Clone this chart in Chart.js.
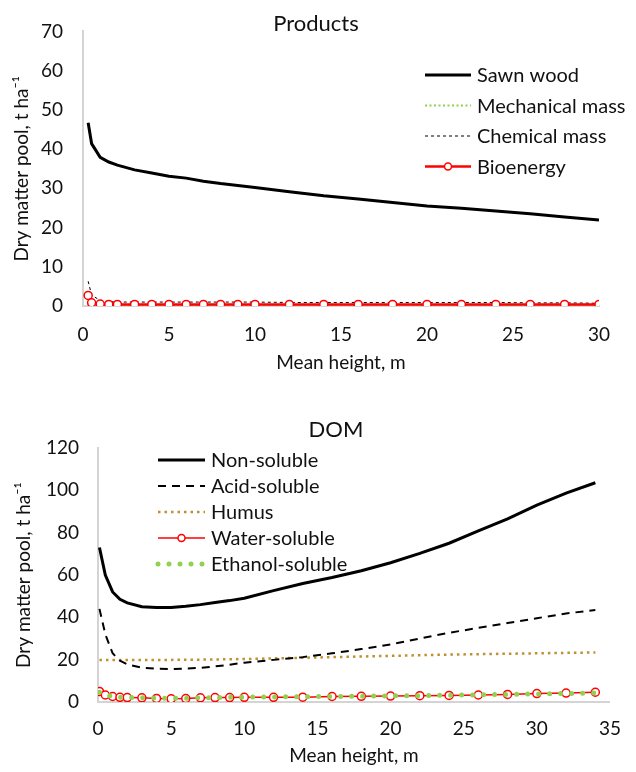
<!DOCTYPE html>
<html>
<head>
<meta charset="utf-8">
<script src="https://cdn.jsdelivr.net/npm/chart.js@4.4.1/dist/chart.umd.min.js"></script>
<style>
  html, body { margin: 0; padding: 0; background: #fff; }
  #wrap { position: relative; width: 636px; height: 772px; }
  #products { position: absolute; left: 0; top: 0; }
  #dom { position: absolute; left: 0; top: 380px; }
</style>
</head>
<body>
<div id="wrap">
  <canvas id="products" width="636" height="380"></canvas>
  <canvas id="dom" width="636" height="392"></canvas>
</div>
<script>
// --- Products panel (mean height, m -> t/ha)
var prodHeights    = [0.3, 0.5, 1, 1.5, 2, 3, 4, 5, 6, 7, 8, 9, 10, 12, 14, 16, 18, 20, 22, 24, 26, 28, 30];
var sawnWood       = [46.7, 41.4, 37.9, 36.7, 35.9, 34.7, 33.9, 33.1, 32.6, 31.8, 31.2, 30.7, 30.2, 29.1, 28.1, 27.3, 26.4, 25.5, 24.9, 24.2, 23.5, 22.7, 21.9];
var mechanicalMass = [1.0, 0.5, 0.3, 0.25, 0.2, 0.2, 0.2, 0.2, 0.2, 0.2, 0.2, 0.2, 0.2, 0.2, 0.2, 0.2, 0.2, 0.2, 0.2, 0.2, 0.2, 0.2, 0.2];
var chemicalMass   = [6.3, 2.8, 1.4, 1.1, 1.0, 1.0, 1.0, 1.0, 1.0, 1.0, 1.0, 1.0, 1.0, 0.9, 0.9, 0.9, 0.9, 0.9, 0.9, 0.9, 0.8, 0.8, 0.7];
var bioenergy      = [2.7, 0.8, 0.5, 0.4, 0.4, 0.4, 0.4, 0.4, 0.4, 0.4, 0.4, 0.4, 0.4, 0.4, 0.4, 0.4, 0.4, 0.4, 0.4, 0.4, 0.4, 0.4, 0.4];

// --- DOM panel
var domHeights     = [0.1, 0.5, 1, 1.5, 2, 3, 4, 5, 6, 7, 8, 9, 10, 12, 14, 16, 18, 20, 22, 24, 26, 28, 30, 32, 34];
var nonSoluble     = [73, 60, 52, 48.5, 46.8, 45.0, 44.6, 44.6, 45.2, 46.0, 47.0, 47.9, 49.0, 52.6, 56.0, 58.8, 62.0, 65.8, 70.2, 75.0, 80.8, 86.5, 93.0, 98.7, 103.6];
var acidSoluble    = [44, 32, 23, 19.5, 17.8, 16.2, 15.7, 15.6, 15.8, 16.1, 16.8, 17.6, 18.6, 19.9, 21.2, 23.0, 25.0, 27.2, 30.0, 32.7, 35.0, 37.3, 39.6, 41.8, 43.5];
var humus          = [19.8, 19.8, 19.8, 19.8, 19.8, 19.8, 19.9, 19.9, 20.0, 20.0, 20.1, 20.2, 20.3, 20.6, 20.9, 21.2, 21.5, 21.8, 22.1, 22.4, 22.6, 22.8, 23.0, 23.2, 23.4];
var waterSoluble   = [5.0, 3.3, 2.6, 2.2, 2.1, 2.0, 1.7, 1.5, 1.6, 2.0, 2.1, 2.1, 2.2, 2.2, 2.3, 2.6, 2.7, 2.8, 3.0, 3.1, 3.3, 3.6, 4.0, 4.2, 4.6];
var ethanolSoluble = [4.6, 3.3, 2.8, 2.3, 2.2, 2.0, 1.8, 1.8, 1.8, 2.0, 2.1, 2.2, 2.3, 2.4, 2.5, 2.6, 2.7, 2.9, 3.0, 3.2, 3.4, 3.6, 3.8, 4.0, 4.3];

var xTitle = 'Mean height, m';
var yTitle = 'Dry matter pool, t ha\u207B\u00B9';

Chart.defaults.font.family = 'Lato, "Open Sans", sans-serif';
Chart.defaults.color = '#111';

function pts(xs, ys) {
    return xs.map(function(x, i) { return {x: x, y: ys[i]}; });
}

// title + legend drawn inside the plot, like the spreadsheet chart
var overlay = {
    id: 'overlay',
    afterDraw: function(chart, args, o) {
        var ctx = chart.ctx;
        ctx.save();
        ctx.fillStyle = '#111';
        ctx.textAlign = 'center';
        ctx.textBaseline = 'middle';
        ctx.font = o.titleSize + 'px Lato';
        ctx.fillText(o.title, o.titleX, o.titleY);

        ctx.textAlign = 'left';
        ctx.font = o.legendSize + 'px Lato';
        chart.data.datasets.forEach(function(ds, i) {
            var y = o.legendY + i * o.rowH;
            var x0 = o.legendX, x1 = o.legendX + o.lineLen;
            ctx.strokeStyle = ds.borderColor;
            ctx.lineWidth = ds.borderWidth;
            ctx.lineCap = ds.borderCapStyle || 'butt';
            ctx.setLineDash(ds.borderDash || []);
            ctx.beginPath();
            ctx.moveTo(x0, y);
            ctx.lineTo(x1, y);
            ctx.stroke();
            ctx.setLineDash([]);
            if (ds.pointRadius > 0) {
                ctx.beginPath();
                ctx.arc((x0 + x1) / 2, y, ds.pointRadius - 0.5, 0, Math.PI * 2);
                ctx.fillStyle = '#fff';
                ctx.fill();
                ctx.lineWidth = ds.pointBorderWidth;
                ctx.stroke();
            }
            ctx.fillStyle = '#111';
            ctx.fillText(ds.label, x1 + 6, y + 1);
        });
        ctx.restore();
    }
};

function scales(s) {
    return {
        x: {
            type: 'linear', min: 0, max: s.xMax,
            grid: { display: false, drawTicks: false },
            border: { display: true, color: '#d4d4d4', width: 2 },
            ticks: { stepSize: 5, padding: s.xPad, font: { size: 19 }, maxRotation: 0 },
            title: { display: true, text: xTitle, font: { size: 19 }, padding: { top: 0, bottom: s.xTitlePad } },
            afterFit: function(a) { a.height = s.xH; }
        },
        y: {
            min: 0, max: s.yMax,
            grid: { display: false, drawTicks: false },
            border: { display: true, color: '#d4d4d4', width: 2 },
            ticks: { stepSize: s.yStep, padding: s.yPad, font: { size: 19 } },
            title: { display: true, text: yTitle, font: { size: 19 }, padding: { top: s.yTitlePad, bottom: 0 } },
            afterFit: function(a) { a.width = s.yW; }
        }
    };
}

var base = {
    responsive: false,
    animation: false,
    devicePixelRatio: 1,
    elements: { line: { tension: 0 } }
};

new Chart(document.getElementById('products'), {
    type: 'line',
    data: {
        datasets: [
            { label: 'Sawn wood', data: pts(prodHeights, sawnWood), borderColor: '#000', borderWidth: 3, pointRadius: 0, order: 1 },
            { label: 'Mechanical mass', data: pts(prodHeights, mechanicalMass), borderColor: '#92d050', borderWidth: 2, borderDash: [2, 2.5], pointRadius: 0, order: 3 },
            { label: 'Chemical mass', data: pts(prodHeights, chemicalMass), borderColor: '#000', borderWidth: 1, borderDash: [3, 3], pointRadius: 0, order: 2 },
            { label: 'Bioenergy', data: pts(prodHeights, bioenergy), borderColor: '#ff0000', borderWidth: 2.5, pointRadius: 4, pointBorderWidth: 1.5, pointBackgroundColor: '#fff', pointBorderColor: '#ff0000', order: 0 }
        ]
    },
    options: Object.assign({}, base, {
        layout: { padding: { top: 20, right: 37, bottom: 0, left: 0 } },
        scales: scales({ xMax: 30, yMax: 70, yStep: 10, xPad: 17, xTitlePad: 6, xH: 74, yPad: 20, yTitlePad: 10, yW: 83 }),
        plugins: {
            legend: { display: false },
            tooltip: { enabled: false },
            overlay: { title: 'Products', titleX: 316, titleY: 24, titleSize: 22,
                       legendX: 425, legendY: 75, rowH: 30.5, lineLen: 46, legendSize: 20 }
        }
    }),
    plugins: [overlay]
});

new Chart(document.getElementById('dom'), {
    type: 'line',
    data: {
        datasets: [
            { label: 'Non-soluble', data: pts(domHeights, nonSoluble), borderColor: '#000', borderWidth: 3, pointRadius: 0, order: 0 },
            { label: 'Acid-soluble', data: pts(domHeights, acidSoluble), borderColor: '#000', borderWidth: 2, borderDash: [8, 6], pointRadius: 0, order: 1 },
            { label: 'Humus', data: pts(domHeights, humus), borderColor: '#bf9032', borderWidth: 2.5, borderDash: [2.5, 4], pointRadius: 0, order: 2 },
            { label: 'Water-soluble', data: pts(domHeights, waterSoluble), borderColor: '#ff0000', borderWidth: 1.5, pointRadius: 4, pointBorderWidth: 1.5, pointBackgroundColor: '#fff', pointBorderColor: '#ff0000', order: 4 },
            { label: 'Ethanol-soluble', data: pts(domHeights, ethanolSoluble), borderColor: '#92d050', borderWidth: 5, borderDash: [0, 11], borderCapStyle: 'round', pointRadius: 0, order: 3 }
        ]
    },
    options: Object.assign({}, base, {
        layout: { padding: { top: 68, right: 11, bottom: 0, left: 0 } },
        scales: scales({ xMax: 35, yMax: 120, yStep: 20, xPad: 15, xTitlePad: 5, xH: 70, yPad: 19, yTitlePad: 12, yW: 98 }),
        plugins: {
            legend: { display: false },
            tooltip: { enabled: false },
            overlay: { title: 'DOM', titleX: 336, titleY: 50, titleSize: 22,
                       legendX: 158, legendY: 80, rowH: 26, lineLen: 47, legendSize: 20 }
        }
    }),
    plugins: [overlay]
});
</script>
</body>
</html>
